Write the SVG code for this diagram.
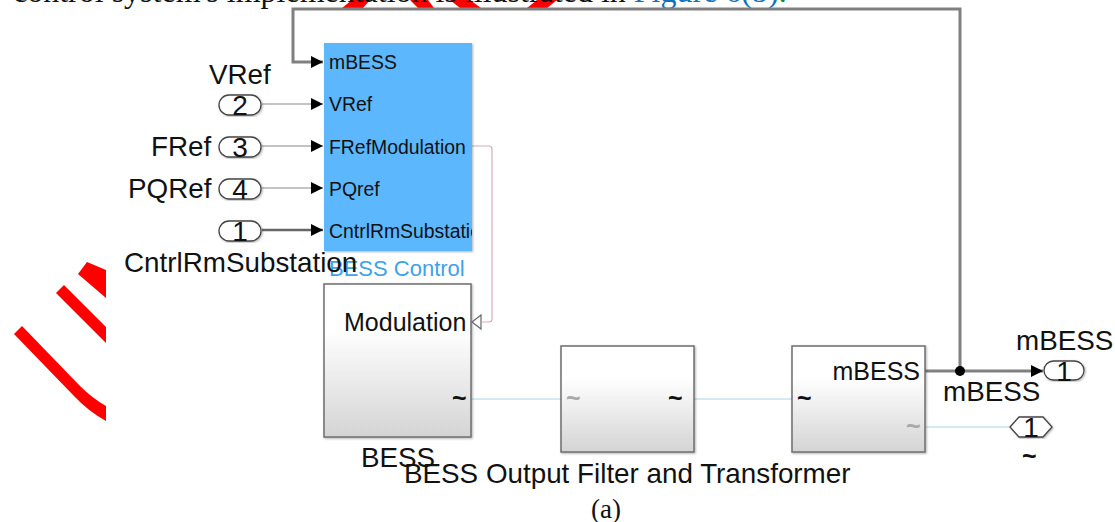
<svg xmlns="http://www.w3.org/2000/svg" width="1115" height="522" viewBox="0 0 1115 522">
<defs>
<linearGradient id="g" x1="0" y1="0" x2="0" y2="1"><stop offset="0.3" stop-color="#ffffff"/><stop offset="1" stop-color="#d4d4d4"/></linearGradient>
<filter id="s" x="-10%" y="-10%" width="120%" height="120%"><feDropShadow dx="1" dy="1" stdDeviation="1" flood-color="#000" flood-opacity="0.3"/></filter>
<clipPath id="bc"><rect x="324" y="43" width="148" height="208"/></clipPath>
<marker id="a" markerUnits="userSpaceOnUse" markerWidth="12" markerHeight="13" refX="12" refY="6.5" orient="auto"><path d="M0,0.5L12,6.5L0,12.5Z" fill="#000"/></marker>
</defs>
<style>
text{font-family:"Liberation Sans",Arial,sans-serif;fill:#111}
.l{font-size:27.8px}
.p{font-size:19.4px}
.m{font-size:25px}
.d{font-size:28px}
.w{fill:#fff;stroke:#444;stroke-width:1.3;filter:url(#s)}
.b{fill:url(#g);stroke:#6e6e6e;stroke-width:1.5;filter:url(#s)}
.c{fill:none}
.t{font-size:25px;font-weight:bold}
.s{font-family:"Liberation Serif",serif}
</style>
<g id="red" fill="#ff0000">
<path d="M342,8L352,0L370,0L363,8Z"/><path d="M418,8L410,0L428,0L434,8Z"/><path d="M460,8L450,0L470,0L481,8Z"/><path d="M527,8L537,0L557,0L547,8Z"/>
<path d="M78,274L87,262L106,270V298Z"/><path d="M56,293L64,285L106,327V343Z"/><path d="M14,334L22,326L80,386Q92,398 106,406V421Q88,411 74,396Z"/>
</g>
<text class="s" x="13" y="2" style="font-size:32px">control system's implementation is illustrated in <tspan style="fill:#0f72bd">Figure 6(b)</tspan><tspan style="fill:#0a8a3c">.</tspan></text>
<g id="connectors" class="c">
<path d="M960,370V9H293V62H323" stroke="#808080" stroke-width="3" marker-end="url(#a)"/>
<path d="M262,104H323" stroke="#8a8a8a" stroke-width="1.2" marker-end="url(#a)"/>
<path d="M262,146H323" stroke="#8a8a8a" stroke-width="1.2" marker-end="url(#a)"/>
<path d="M262,188H323" stroke="#8a8a8a" stroke-width="1.2" marker-end="url(#a)"/>
<path d="M262,230H323" stroke="#666" stroke-width="2.5" marker-end="url(#a)"/>
<path d="M472,146H489Q492,146 492,149V319Q492,322 489,322H482" stroke="#d6aeb6" stroke-width="1.2"/>
<path d="M472,399H561M694,399H792M925,427H1010" stroke="#a9d3ea" stroke-width="1.2"/>
<path d="M925,371H1043" stroke="#808080" stroke-width="3" marker-end="url(#a)"/>
<circle cx="960" cy="371" r="5" fill="#000"/>
</g>
<g id="bess-control">
<rect x="324" y="43" width="148" height="208" fill="#5cb7fd" filter="url(#s)"/>
<text class="p" x="329" y="69">mBESS</text><text class="p" x="329" y="111">VRef</text><text class="p" x="329" y="154">FRefModulation</text><text class="p" x="329" y="196">PQref</text>
<text class="p" x="329" y="238" clip-path="url(#bc)">CntrlRmSubstation</text>
<text x="329" y="276" style="font-size:22px;fill:#3fa2e8">BESS Control</text>
</g>
<g id="in2"><rect class="w" x="219" y="95" width="42" height="20" rx="10"/><text class="d" x="240" y="115" text-anchor="middle">2</text></g>
<g id="in3"><rect class="w" x="219" y="137" width="42" height="20" rx="10"/><text class="d" x="240" y="157" text-anchor="middle">3</text></g>
<g id="in4"><rect class="w" x="219" y="179" width="42" height="20" rx="10"/><text class="d" x="240" y="199" text-anchor="middle">4</text></g>
<g id="in1"><rect class="w" x="219" y="221" width="42" height="20" rx="10"/><text class="d" x="240" y="241" text-anchor="middle">1</text></g>
<text class="l" x="209" y="84">VRef</text>
<text class="l" x="151" y="156">FRef</text>
<text class="l" x="128" y="198">PQRef</text>
<text class="l" x="124" y="272">CntrlRmSubstation</text>
<g id="bess">
<rect class="b" x="324" y="284" width="147" height="153"/>
<text class="m" x="344" y="331">Modulation</text>
<path d="M481,315V329L472,322Z" fill="#fff" stroke="#666" stroke-width="1.2"/>
<text class="t" x="452" y="407">~</text>
<text class="l" x="361" y="467">BESS</text>
</g>
<g id="filter">
<rect class="b" x="561" y="346" width="133" height="106"/>
<text class="t" x="566" y="407" style="fill:#aaa">~</text>
<text class="t" x="668" y="407">~</text>
</g>
<text class="l" x="404" y="483">BESS Output Filter and Transformer</text>
<g id="xfmr">
<rect class="b" x="792" y="346" width="133" height="106"/>
<text class="m" x="920" y="380" text-anchor="end">mBESS</text>
<text class="t" x="797" y="407">~</text>
<text class="t" x="906" y="435" style="fill:#aaa">~</text>
</g>
<g id="out1"><rect class="w" x="1044" y="361" width="40" height="19" rx="9.5"/><text class="d" x="1064" y="381" text-anchor="middle">1</text></g>
<text class="l" x="1016" y="350">mBESS</text>
<text class="l" x="943" y="401">mBESS</text>
<g id="out2"><path class="w" d="M1010,427L1019,417H1043L1052,427L1043,437H1019Z"/><text class="d" x="1031" y="437" text-anchor="middle">1</text></g>
<text class="t" x="1022" y="465">~</text>
<text class="s" x="591" y="518" style="font-size:27px">(a)</text>
</svg>
